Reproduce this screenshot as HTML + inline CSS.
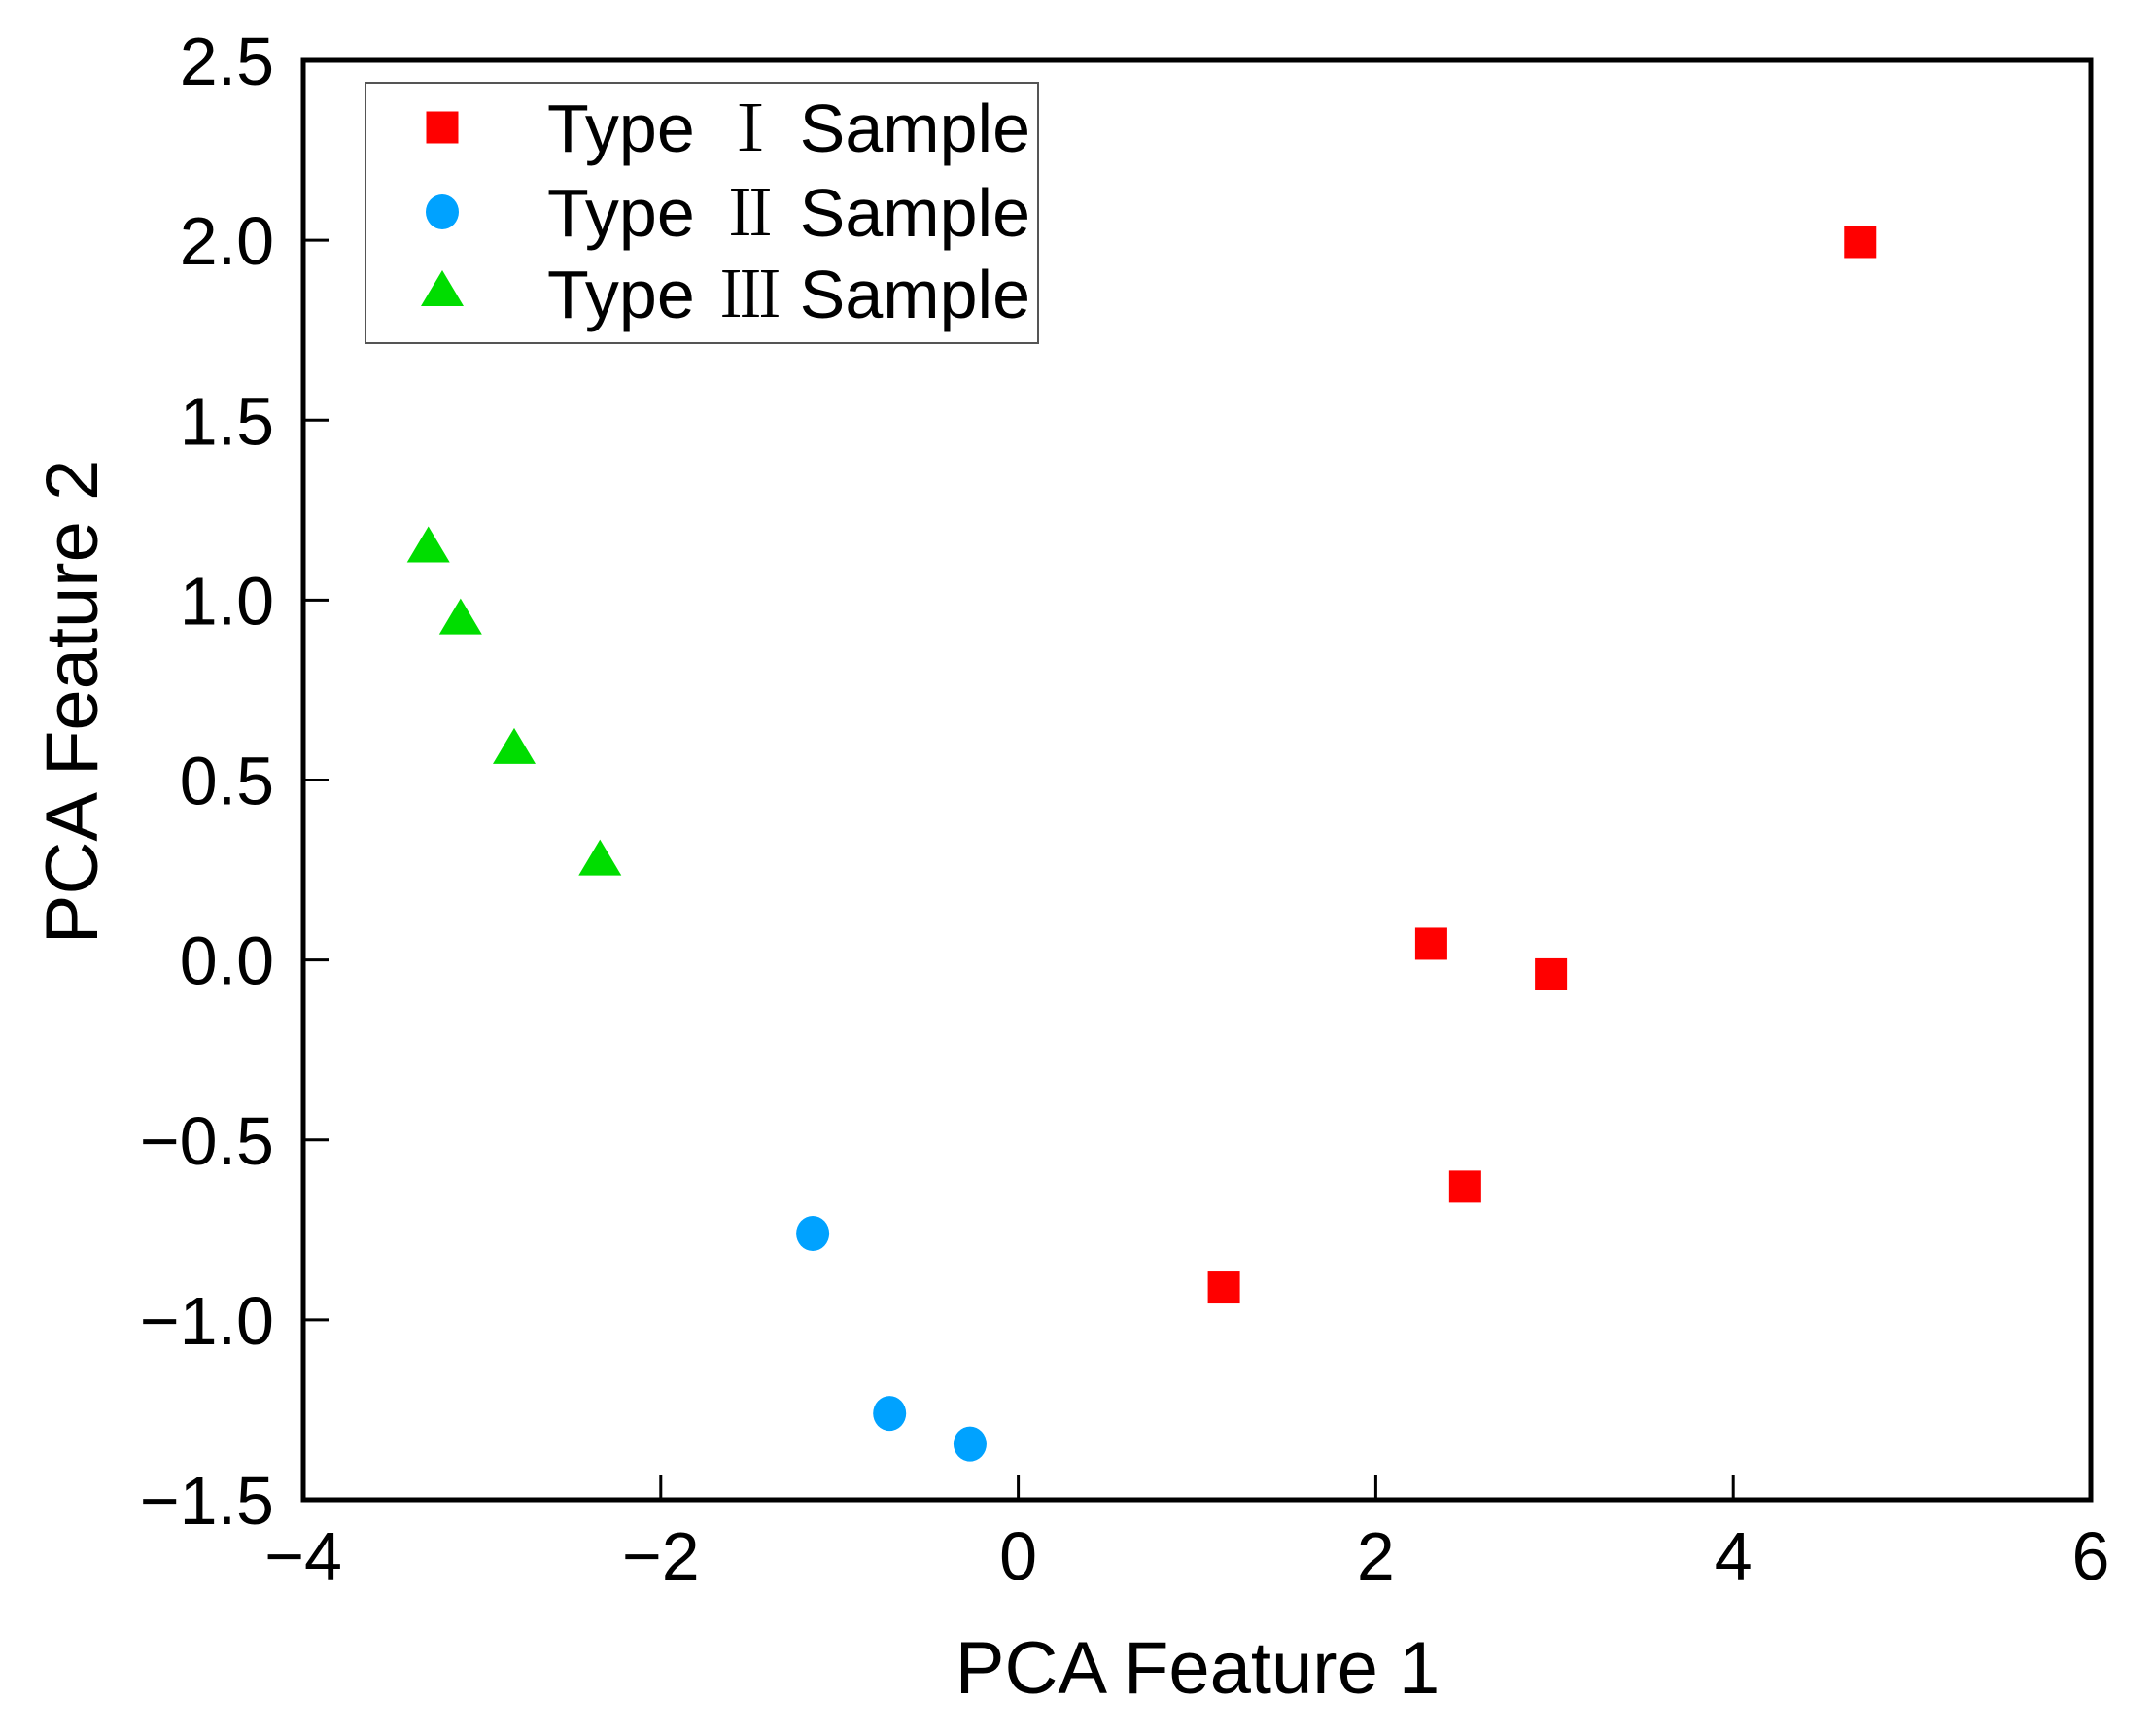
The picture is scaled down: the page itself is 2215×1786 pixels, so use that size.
<!DOCTYPE html>
<html><head><meta charset="utf-8"><style>
html,body{margin:0;padding:0;background:#fff;}
svg{display:block;font-family:"Liberation Sans","Noto Sans CJK SC",sans-serif;}
</style></head><body>
<svg id="chart" width="2215" height="1786" viewBox="0 0 2215 1786" xmlns="http://www.w3.org/2000/svg">
<rect x="0" y="0" width="2215" height="1786" fill="#fff"/>
<g id="marks"></g>
<g id="axes"></g>
</svg>
<script>
const xTicks = [-4, -2, 0, 2, 4, 6];
const yTicks = [-1.5, -1.0, -0.5, 0.0, 0.5, 1.0, 1.5, 2.0, 2.5];
const typeIX = [4.71, 2.31, 2.98, 2.50, 1.15];
const typeIY = [1.995, 0.045, -0.04, -0.63, -0.91];
const typeIIX = [-1.15, -0.72, -0.27];
const typeIIY = [-0.76, -1.26, -1.345];
const typeIIIX = [-3.30, -3.12, -2.82, -2.34];
const typeIIIY = [1.14, 0.94, 0.58, 0.27];

const L = 312, R = 2151, T = 62, B = 1543;
const X0 = -4, X1 = 6, Y0 = -1.5, Y1 = 2.5;
function sx(v){ return L + (v - X0) / (X1 - X0) * (R - L); }
function sy(v){ return B - (v - Y0) / (Y1 - Y0) * (B - T); }
const NS = "http://www.w3.org/2000/svg";
function mk(tag, attrs, parent){
  const e = document.createElementNS(NS, tag);
  for (const k in attrs) e.setAttribute(k, attrs[k]);
  parent.appendChild(e);
  return e;
}
const marks = document.getElementById('marks');
const axes = document.getElementById('axes');

const frame = mk('rect', {x:L, y:T, width:R-L, height:B-T, fill:'none', stroke:'#000', 'stroke-width':5}, axes);



xTicks.forEach(function(v){
  const x = sx(v);
  const t = mk('line', {x1:x, x2:x, y1:B, y2:B-26, stroke:'#000', 'stroke-width':3}, axes);
  
  
  const lb = mk('text', {x:x, y:1625, 'text-anchor':'middle', 'font-size':70, fill:'#000'}, axes);
  lb.textContent = String(v).replace('-', '\u2212');
  
  
});
yTicks.forEach(function(v){
  const y = sy(v);
  const t = mk('line', {x1:L, x2:L+26, y1:y, y2:y, stroke:'#000', 'stroke-width':3}, axes);
  
  
  const lb = mk('text', {x:282, y:y+25, 'text-anchor':'end', 'font-size':70, fill:'#000'}, axes);
  lb.textContent = v.toFixed(1).replace('-', '\u2212');
  
  
});

const xt = mk('text', {x:1232, y:1742, 'text-anchor':'middle', 'font-size':76, fill:'#000'}, axes);
xt.textContent = 'PCA Feature 1';


const yt = mk('text', {x:0, y:0, 'text-anchor':'middle', 'font-size':76, fill:'#000', transform:'translate(100,722) rotate(-90)'}, axes);
yt.textContent = 'PCA Feature 2';



function square(cx, cy, parent){ return mk('rect', {x:cx-16.5, y:cy-16.5, width:33, height:33, fill:'#ff0000'}, parent); }
function circle(cx, cy, parent){ return mk('ellipse', {cx:cx, cy:cy, rx:17, ry:18, fill:'#00a2ff'}, parent); }
function tri(cx, cy, parent){ return mk('polygon', {points:(cx)+','+(cy-24)+' '+(cx-22)+','+(cy+13)+' '+(cx+22)+','+(cy+13), fill:'#00dd00'}, parent); }

typeIX.forEach(function(v, i){
  const m = square(sx(v), sy(typeIY[i]), marks);
  
  
});
typeIIX.forEach(function(v, i){
  const m = circle(sx(v), sy(typeIIY[i]), marks);
  
  
});
typeIIIX.forEach(function(v, i){
  const m = tri(sx(v), sy(typeIIIY[i]), marks);
  
  
});

const lg = mk('g', {}, axes);


mk('rect', {x:376, y:85, width:692, height:268, fill:'#fff', stroke:'#555', 'stroke-width':2}, lg);
const rows = [
  {y:131, num:'\u2160', name:'legend-entry-type-i'},
  {y:218, num:'\u2161', name:'legend-entry-type-ii'},
  {y:302, num:'\u2162', name:'legend-entry-type-iii'}
];
const fns = [square, circle, tri];
rows.forEach(function(r, i){
  const g = mk('g', {}, lg);
  
  
  fns[i](455, r.y, g);
  const t1 = mk('text', {x:563, y:r.y+25, 'font-size':70, fill:'#000'}, g);
  t1.textContent = 'Type';
  const t2 = mk('text', {x:772, y:r.y+24, 'font-size':64, fill:'#000', 'text-anchor':'middle', 'font-family':'"Noto Serif CJK SC","Liberation Serif",serif'}, g);
  t2.textContent = r.num;
  const t3 = mk('text', {x:1060, y:r.y+25, 'font-size':70, fill:'#000', 'text-anchor':'end'}, g);
  t3.textContent = 'Sample';
});
</script>
</body></html>
